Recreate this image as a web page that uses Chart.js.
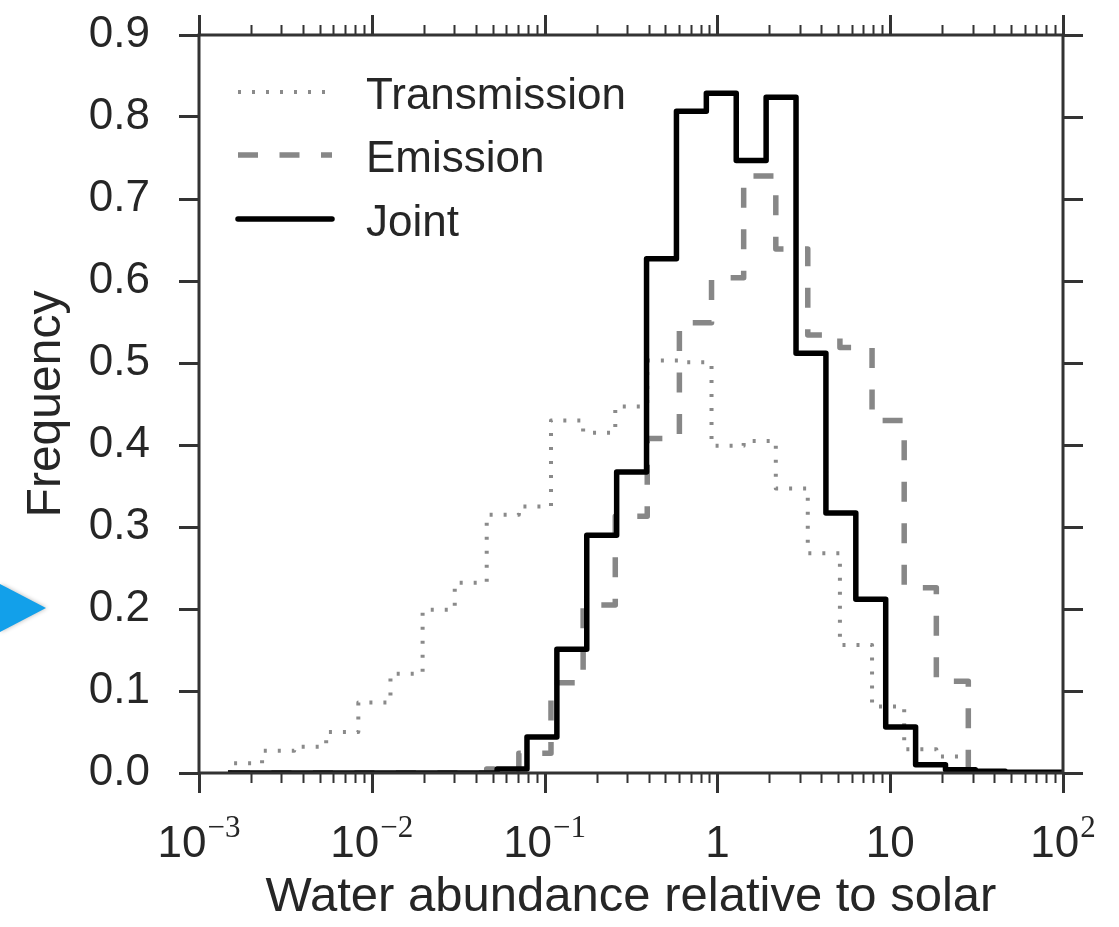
<!DOCTYPE html>
<html>
<head>
<meta charset="utf-8">
<script src="https://cdn.jsdelivr.net/npm/chart.js@4.4.1/dist/chart.umd.min.js"></script>
<style>
  html, body { margin: 0; padding: 0; background: #fff; }
  #wrap { width: 1119px; height: 927px; }
</style>
</head>
<body>
<div id="wrap"><canvas id="hist" width="1119" height="927"></canvas></div>
<script>
// Water abundance posteriors: step histograms on log-spaced bins

// bin edges, as log10(abundance / solar)
const jointEdges = [
  -2.832, -2.659, -2.486, -2.313, -2.140, -1.967, -1.794, -1.621, -1.448, -1.275,
  -1.102, -0.929, -0.756, -0.583, -0.410, -0.237, -0.064,  0.109,  0.282,  0.455,
   0.628,  0.801,  0.974,  1.147,  1.320,  1.493,  1.666,  1.839,  2.012,
];
// transmission and emission runs share these
const retrievalEdges = [
  -2.821, -2.635, -2.449, -2.264, -2.078, -1.892, -1.706, -1.520, -1.335, -1.149,
  -0.963, -0.777, -0.591, -0.406, -0.220, -0.034,  0.152,  0.338,  0.523,  0.709,
   0.895,  1.081,  1.267,  1.452,
];

const transmission = [
  0.012, 0.027, 0.032, 0.050, 0.086, 0.121, 0.199, 0.232, 0.315, 0.325,
  0.430, 0.415, 0.447, 0.503, 0.501, 0.399, 0.405, 0.347, 0.268, 0.156,
  0.081, 0.029, 0.020,
];
const emission = [
  0, 0, 0, 0, 0, 0, 0, 0, 0.005, 0.024,
  0.110, 0.205, 0.313, 0.408, 0.549, 0.604, 0.728, 0.639, 0.534, 0.519,
  0.430, 0.226, 0.112,
];
const joint = [
  0, 0, 0, 0, 0, 0, 0, 0, 0, 0.005,
  0.044, 0.151, 0.290, 0.367, 0.627, 0.807, 0.829, 0.747, 0.824, 0.512,
  0.317, 0.212, 0.056, 0.010, 0.004, 0.002, 0.001, 0.001,
];

const xDecades  = [-3, -2, -1, 0, 1, 2];
const xTickBase = ['10', '10', '10', '1', '10', '10'];
const xTickExp  = ['\u22123', '\u22122', '\u22121', '', '', '2'];

const FONT  = "'Liberation Sans', Arial, Helvetica, sans-serif";
const SERIF = "'Liberation Serif', 'DejaVu Serif', serif";
const INK   = '#262626';
const FRAME = '#333333';

// outline of a histogram: up at the first edge, across each bin, down at the last edge
function outline(edges, vals) {
  const pts = [{ x: Math.pow(10, edges[0]), y: 0 }];
  vals.forEach((v, i) => {
    pts.push({ x: Math.pow(10, edges[i]), y: v });
    pts.push({ x: Math.pow(10, edges[i + 1]), y: v });
  });
  pts.push({ x: Math.pow(10, edges[vals.length]), y: 0 });
  return pts;
}

const series = [
  { label: 'Transmission', data: outline(retrievalEdges, transmission), borderColor: '#8a8a8a', borderWidth: 4,   borderDash: [3, 11],    order: 2 },
  { label: 'Emission',     data: outline(retrievalEdges, emission),     borderColor: '#878787', borderWidth: 5.5, borderDash: [20, 21.5], order: 1 },
  { label: 'Joint',        data: outline(jointEdges, joint),            borderColor: '#000000', borderWidth: 5.5, borderDash: [],         order: 0 },
];

// frame, outward ticks on all four sides, decade labels, legend
const decor = {
  id: 'decor',
  afterDraw(chart) {
    const { ctx, chartArea: a, scales: { x, y } } = chart;
    ctx.save();
    ctx.lineCap = 'butt';

    // x ticks, bottom and top
    x.ticks.forEach(t => {
      const px = Math.round(x.getPixelForValue(t.value)) + 0.5;
      const len = t.major ? 20 : 10;
      ctx.lineWidth = t.major ? 3 : 2;
      ctx.strokeStyle = FRAME;
      ctx.beginPath();
      ctx.moveTo(px, a.bottom); ctx.lineTo(px, a.bottom + len);
      ctx.moveTo(px, a.top);    ctx.lineTo(px, a.top - len);
      ctx.stroke();
    });

    // y ticks on the right
    ctx.lineWidth = 3;
    y.ticks.forEach(t => {
      const py = Math.round(y.getPixelForValue(t.value)) + 0.5;
      ctx.beginPath();
      ctx.moveTo(a.right, py); ctx.lineTo(a.right + 20, py);
      ctx.stroke();
    });

    // frame
    ctx.lineWidth = 3;
    ctx.strokeRect(a.left, a.top, a.right - a.left, a.bottom - a.top);

    // decade labels with raised exponents
    ctx.fillStyle = INK;
    ctx.textBaseline = 'alphabetic';
    ctx.textAlign = 'left';
    xDecades.forEach((d, i) => {
      const px = x.getPixelForValue(Math.pow(10, d));
      ctx.font = `44px ${FONT}`;
      const wb = ctx.measureText(xTickBase[i]).width;
      ctx.font = `31px ${SERIF}`;
      const we = xTickExp[i] ? ctx.measureText(xTickExp[i]).width + 1 : 0;
      const x0 = px - (wb + we) / 2;
      ctx.font = `44px ${FONT}`;
      ctx.fillText(xTickBase[i], x0, 857);
      if (xTickExp[i]) {
        ctx.font = `31px ${SERIF}`;
        ctx.fillText(xTickExp[i], x0 + wb + 1, 837);
      }
    });

    // legend
    const rows = [92, 155, 219];
    series.forEach((s, i) => {
      ctx.strokeStyle = s.borderColor;
      ctx.lineWidth = s.borderWidth;
      ctx.setLineDash(s.borderDash);
      ctx.lineCap = s.label === 'Joint' ? 'round' : 'butt';
      ctx.beginPath();
      ctx.moveTo(238, rows[i]); ctx.lineTo(332, rows[i]);
      ctx.stroke();
      ctx.setLineDash([]);
      ctx.font = `44px ${FONT}`;
      ctx.fillStyle = INK;
      ctx.fillText(s.label, 366, rows[i] + 16.5);
    });

    // blue pointer at the left margin
    ctx.shadowColor = 'rgba(0,0,0,0.25)';
    ctx.shadowBlur = 4;
    ctx.shadowOffsetX = 1;
    ctx.fillStyle = '#12a0ea';
    ctx.beginPath();
    ctx.moveTo(0, 584); ctx.lineTo(46, 608); ctx.lineTo(0, 632);
    ctx.closePath();
    ctx.fill();

    ctx.restore();
  },
};

new Chart(document.getElementById('hist'), {
  type: 'scatter',
  data: {
    datasets: series.map(s => ({
      label: s.label,
      data: s.data,
      showLine: true,
      borderColor: s.borderColor,
      borderWidth: s.borderWidth,
      borderDash: s.borderDash,
      borderJoinStyle: 'round',
      borderCapStyle: 'butt',
      pointRadius: 0,
      order: s.order,
    })),
  },
  options: {
    responsive: false,
    animation: false,
    layout: { padding: { top: 35, right: 56, left: 0, bottom: 0 } },
    plugins: { legend: { display: false }, tooltip: { enabled: false } },
    scales: {
      x: {
        type: 'logarithmic',
        min: 1e-3, max: 1e2,
        afterBuildTicks: s => {
          const ticks = [];
          xDecades.forEach(d => {
            ticks.push({ value: Math.pow(10, d), major: true });
            if (d < 2) for (let m = 2; m <= 9; m++) ticks.push({ value: m * Math.pow(10, d), major: false });
          });
          s.ticks = ticks;
        },
        afterFit: s => { s.height = 154; s.paddingLeft = 0; s.paddingRight = 0; },
        grid: { display: false },
        border: { display: false },
        ticks: { display: false },
        title: {
          display: true,
          text: 'Water abundance relative to solar',
          color: INK,
          font: { family: FONT, size: 49 },
          padding: { top: 0, bottom: 0 },
        },
      },
      y: {
        min: 0, max: 0.9,
        afterFit: s => { s.width = 199; s.paddingTop = 0; s.paddingBottom = 0; },
        ticks: {
          stepSize: 0.1,
          callback: v => v.toFixed(1),
          color: INK,
          font: { family: FONT, size: 44 },
          padding: 29,
        },
        grid: { drawOnChartArea: false, drawTicks: true, tickLength: 20, tickWidth: 3, tickColor: FRAME },
        border: { display: false },
        title: {
          display: true,
          text: 'Frequency',
          color: INK,
          font: { family: FONT, size: 48 },
          padding: { top: 18, bottom: 0 },
        },
      },
    },
  },
  plugins: [decor],
});
</script>
</body>
</html>
